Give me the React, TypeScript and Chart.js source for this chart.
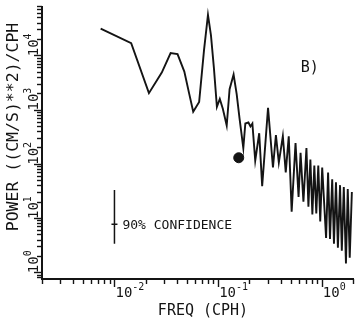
import React, { useEffect, useRef } from "react";
import { Chart, registerables } from "chart.js";

Chart.register(...registerables);

// Spectrum (frequency in CPH, power in (cm/s)^2/CPH)
const freq = [
  0.00736, 0.0145, 0.0215, 0.0286, 0.0348, 0.0406, 0.0472, 0.0527, 0.0575, 0.0656,
  0.0731, 0.0798, 0.0853, 0.091, 0.0973, 0.1038, 0.111, 0.121, 0.129, 0.141,
  0.151, 0.161, 0.175, 0.183, 0.196, 0.205, 0.214, 0.228, 0.249, 0.266,
  0.303, 0.338, 0.361, 0.385, 0.421, 0.449, 0.48, 0.512, 0.558, 0.597,
  0.624, 0.665, 0.711, 0.743, 0.776, 0.811, 0.847, 0.885, 0.925, 0.966,
  1.009, 1.1, 1.15, 1.2, 1.26, 1.31, 1.37, 1.43, 1.5, 1.56,
  1.63, 1.71, 1.78, 1.86, 1.95,
];
const power = [
  31000, 16700, 2000, 4790, 11000, 10500, 4990, 1920, 910, 1380,
  12400, 55600, 23200, 5900, 1120, 1560, 1030, 508, 2360, 4410,
  1920, 680, 195, 552, 576, 488, 552, 114, 365, 38.7,
  1070, 85.2, 336, 105, 322, 69.2, 322, 13.1, 241, 24.5,
  159, 19.9, 195, 16.2, 119, 11.6, 92.5, 12.1, 92.5, 8.67,
  85.2, 4.28, 69.2, 4.11, 51.8, 3.34, 45.7, 2.83, 40.3, 2.49,
  37.1, 1.45, 34.2, 1.86, 30.2,
];

// ink blot on the curve
const blobFreq = [0.158];
const blobPower = [129];

// 90% confidence bar
const confFreq = 0.01;
const confTop = 32.8;
const confMid = 7.66;
const confBottom = 3.34;
const confLabel = "90% CONFIDENCE";

// panel label
const panelLabel = "B)";
const panelFreq = 0.625;
const panelPower = 5890;

// axes
const xMin = 0.002;
const xMax = 2;
const yMin = 0.75;
const yMax = 81000;
const xMajorExps = [-2, -1, 0];
const yMajorExps = [0, 1, 2, 3, 4];
const xTitle = "FREQ (CPH)";
const yTitle = "POWER ((CM/S)**2)/CPH";

const MONO = "'DejaVu Sans Mono', monospace";
const INK = "#141414";

const overlay = {
  id: "oldPlotOverlay",
  afterDraw(chart: any) {
    const ctx = chart.ctx as CanvasRenderingContext2D;
    const xs = chart.scales.x;
    const ys = chart.scales.y;
    const { left, right, top, bottom } = chart.chartArea;
    ctx.save();
    ctx.strokeStyle = INK;
    ctx.fillStyle = INK;

    // axis lines
    ctx.lineWidth = 2;
    ctx.beginPath();
    ctx.moveTo(left, top);
    ctx.lineTo(left, bottom);
    ctx.lineTo(right + 1, bottom);
    ctx.stroke();

    // x ticks (outward, downward)
    ctx.lineWidth = 1.4;
    for (let e = -3; e <= 0; e++) {
      for (let m = 1; m <= 9; m++) {
        const v = m * Math.pow(10, e);
        if (v < xMin * 0.9999 || v > xMax * 1.0001) continue;
        const px = Math.round(xs.getPixelForValue(v)) + 0.5;
        const len = m === 1 ? 8 : 5;
        ctx.beginPath();
        ctx.moveTo(px, bottom);
        ctx.lineTo(px, bottom + len);
        ctx.stroke();
      }
    }
    // y ticks (outward, leftward)
    for (let e = -1; e <= 4; e++) {
      for (let m = 1; m <= 9; m++) {
        const v = m * Math.pow(10, e);
        if (v < yMin * 0.9999 || v > yMax * 1.0001) continue;
        const py = Math.round(ys.getPixelForValue(v)) + 0.5;
        const len = m === 1 ? 8 : 5;
        ctx.beginPath();
        ctx.moveTo(left - len, py);
        ctx.lineTo(left, py);
        ctx.stroke();
      }
    }

    // x tick labels
    ctx.textAlign = "left";
    ctx.textBaseline = "alphabetic";
    for (const e of xMajorExps) {
      const px = xs.getPixelForValue(Math.pow(10, e));
      ctx.font = `14px ${MONO}`;
      ctx.fillText("10", px + 1, 297);
      const w = ctx.measureText("10").width;
      ctx.font = `10px ${MONO}`;
      ctx.fillText(e < 0 ? "-" + Math.abs(e) : String(e), px + 1 + w, 290);
    }
    // y tick labels (rotated)
    for (const e of yMajorExps) {
      const py = ys.getPixelForValue(Math.pow(10, e));
      ctx.save();
      ctx.translate(38, py + 1);
      ctx.rotate(-Math.PI / 2);
      ctx.font = `14px ${MONO}`;
      ctx.fillText("10", 0, 0);
      const w = ctx.measureText("10").width;
      ctx.font = `10px ${MONO}`;
      ctx.fillText(String(e), w, -7);
      ctx.restore();
    }

    // axis titles
    ctx.font = `15px ${MONO}`;
    ctx.textAlign = "center";
    ctx.fillText(xTitle, 203, 315);
    ctx.save();
    ctx.translate(18, 127);
    ctx.rotate(-Math.PI / 2);
    ctx.font = `16.5px ${MONO}`;
    ctx.fillText(yTitle, 0, 0);
    ctx.restore();

    // confidence label
    ctx.textAlign = "left";
    ctx.textBaseline = "middle";
    ctx.font = `13px ${MONO}`;
    ctx.fillText(confLabel, xs.getPixelForValue(confFreq) + 8, ys.getPixelForValue(confMid) + 1);

    // panel label
    ctx.font = `15px ${MONO}`;
    ctx.fillText(panelLabel, xs.getPixelForValue(panelFreq), ys.getPixelForValue(panelPower));

    ctx.restore();
  },
};

export default function App() {
  const ref = useRef<HTMLCanvasElement | null>(null);
  useEffect(() => {
    if (!ref.current) return;
    const chart = new Chart(ref.current, {
      type: "line",
      data: {
        datasets: [
          {
            data: freq.map((f, i) => ({ x: f, y: power[i] })),
            borderColor: INK,
            borderWidth: 1.9,
            pointRadius: 0,
            tension: 0,
            fill: false,
          },
          {
            data: [
              { x: confFreq, y: confTop },
              { x: confFreq, y: confBottom },
            ],
            borderColor: INK,
            borderWidth: 1.5,
            pointRadius: 0,
            fill: false,
          },
          {
            data: [{ x: confFreq, y: confMid }],
            showLine: false,
            pointStyle: "line",
            pointRadius: 3,
            borderColor: INK,
            borderWidth: 1.5,
          },
          {
            data: blobFreq.map((f, i) => ({ x: f, y: blobPower[i] })),
            showLine: false,
            pointStyle: "circle",
            pointRadius: 5,
            backgroundColor: INK,
            borderColor: INK,
            borderWidth: 1,
          },
        ],
      },
      options: {
        animation: false,
        responsive: false,
        devicePixelRatio: 1,
        layout: { padding: { left: 42, right: 1, top: 0, bottom: 41 } },
        scales: {
          x: { type: "logarithmic", min: xMin, max: xMax, display: false },
          y: { type: "logarithmic", min: yMin, max: yMax, display: false },
        },
        plugins: { legend: { display: false }, tooltip: { enabled: false } },
      },
      plugins: [overlay],
    });
    return () => chart.destroy();
  }, []);
  return (
    <div style={{ position: "fixed", left: 0, top: 0, width: 359, height: 320, background: "#fff" }}>
      <canvas ref={ref} width={359} height={320} />
    </div>
  );
}
